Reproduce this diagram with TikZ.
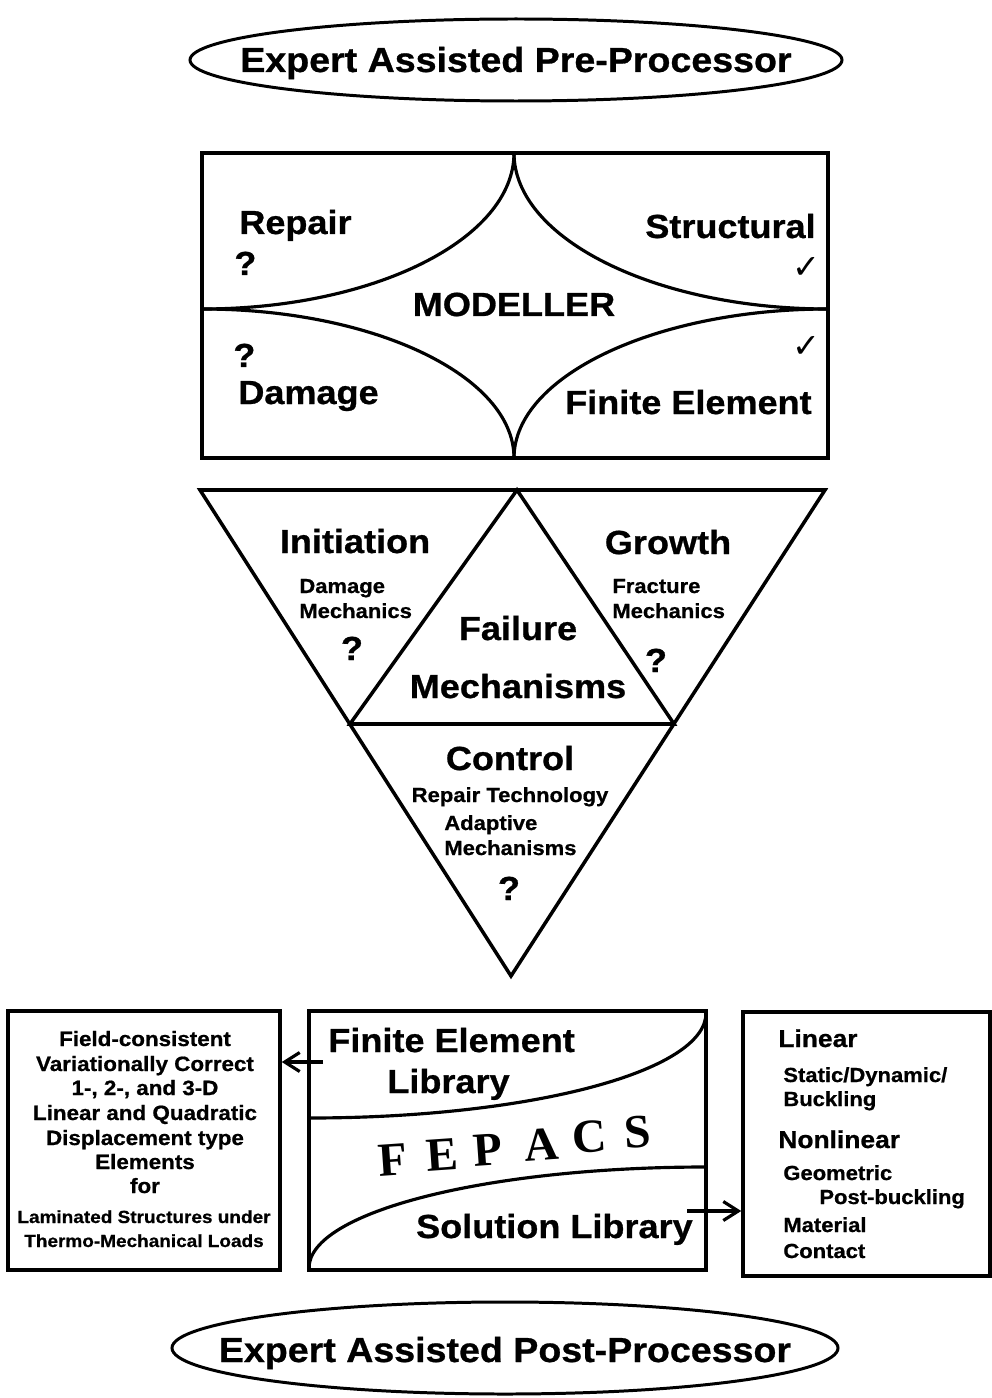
\documentclass[tikz,border=0pt]{standalone}
\usepackage{fontspec}
\setmainfont{Liberation Sans}[FakeStretch=1.08, BoldFeatures={FakeBold=0.8}]
\newfontfamily\checkfont{DejaVu Sans}
\newfontfamily\fepacsfont{Liberation Serif}
\usetikzlibrary{arrows.meta,shapes.geometric}

\tikzset{
  boxline/.style={line width=2pt},
  arcline/.style={line width=1.8pt},
  oval/.style={ellipse, draw, line width=1.7pt, inner sep=0pt},
  titletxt/.style={font=\bfseries\fontsize{19.8}{22}\selectfont, inner sep=0pt},
  headtxt/.style={font=\bfseries\fontsize{19}{22}\selectfont, inner sep=0pt},
  subtxt/.style={font=\bfseries\fontsize{11.6}{14}\selectfont, inner sep=0pt},
  listtxt/.style={font=\bfseries\fontsize{11.8}{14}\selectfont, inner sep=0pt},
  finetxt/.style={font=\bfseries\fontsize{10}{12}\selectfont, inner sep=0pt},
  kindtxt/.style={font=\bfseries\fontsize{13.9}{16}\selectfont, inner sep=0pt},
  checktxt/.style={font=\checkfont\bfseries\fontsize{19}{19}\selectfont, inner sep=0pt},
  fepacstxt/.style={font=\fepacsfont\bfseries\fontsize{27}{27}\selectfont, inner sep=0pt},
  link/.style={line width=1.8pt, -{Straight Barb[length=3mm,width=3.8mm]}},
}

\begin{document}
\begin{tikzpicture}[x=0.2mm,y=-0.2mm]
  \useasboundingbox (0,0) rectangle (992,1398);

  % pre-processor
  \node[oval, minimum width=130.4mm, minimum height=16.4mm] (pre) at (516,60) {};
  \node[titletxt, anchor=base] (pre-label) at (516,72) {Expert Assisted Pre-Processor};

  % modeller box with the four corner arcs
  \draw[boxline] (202,153) rectangle (828,458);
  \draw[arcline] (514,153) .. controls (514,239) and (374,309) .. (202,309);
  \draw[arcline] (514,153) .. controls (514,239) and (656,309) .. (828,309);
  \draw[arcline] (202,309) .. controls (374,309) and (514,376) .. (514,458);
  \draw[arcline] (828,309) .. controls (656,309) and (514,376) .. (514,458);
  \node[headtxt, anchor=base west] (repair) at (239,234) {Repair};
  \node[headtxt, anchor=base west] (repair-q) at (234,275) {?};
  \node[headtxt, anchor=base east] (structural) at (816,238) {Structural};
  \node[checktxt] (structural-ok) at (806,268) {✓};
  \node[headtxt, anchor=base] (modeller) at (514,316) {MODELLER};
  \node[headtxt, anchor=base west] (damage-q) at (233,367) {?};
  \node[headtxt, anchor=base west] (damage) at (238,404) {Damage};
  \node[checktxt] (finite-ok) at (806,347) {✓};
  \node[headtxt, anchor=base east] (finite) at (812,414) {Finite Element};

  % failure mechanisms triangle
  \draw[boxline, line join=miter] (200,490) -- (825,490) -- (511,976) -- cycle;
  \draw[boxline, line join=miter] (350,724) -- (517,490) -- (674,724) -- cycle;
  \node[headtxt, anchor=base] (initiation) at (355,553) {Initiation};
  \node[subtxt, anchor=base west] (init-a) at (299,593) {Damage};
  \node[subtxt, anchor=base west] (init-b) at (299,618) {Mechanics};
  \node[headtxt, anchor=base] (init-q) at (352,660) {?};
  \node[headtxt, anchor=base] (growth) at (668,554) {Growth};
  \node[subtxt, anchor=base west] (growth-a) at (612,593) {Fracture};
  \node[subtxt, anchor=base west] (growth-b) at (612,618) {Mechanics};
  \node[headtxt, anchor=base] (growth-q) at (656,672) {?};
  \node[headtxt, anchor=base] (failure) at (518,640) {Failure};
  \node[headtxt, anchor=base] (mechanisms) at (518,698) {Mechanisms};
  \node[headtxt, anchor=base] (control) at (510,770) {Control};
  \node[subtxt, anchor=base] (control-a) at (510,802) {Repair Technology};
  \node[subtxt, anchor=base west] (control-b) at (444,830) {Adaptive};
  \node[subtxt, anchor=base west] (control-c) at (444,855) {Mechanisms};
  \node[headtxt, anchor=base] (control-q) at (509,900) {?};

  % element library notes
  \node[boxline, draw, minimum width=54.4mm, minimum height=51.8mm, inner sep=0pt] (elements) at (144,1140.5) {};
  \foreach \lbl/\y [count=\i] in {Field-consistent/1046, Variationally Correct/1071,
      {1-, 2-, and 3-D}/1095, Linear and Quadratic/1120, Displacement type/1145,
      Elements/1169, for/1193}
    \node[listtxt, anchor=base] (elem-\i) at (145,\y) {\lbl};
  \node[finetxt, anchor=base] (elem-8) at (144,1223) {Laminated Structures under};
  \node[finetxt, anchor=base] (elem-9) at (144,1247) {Thermo-Mechanical Loads};

  % FEPACS
  \node[boxline, draw, minimum width=79.4mm, minimum height=51.8mm, inner sep=0pt] (fepacs) at (507.5,1140.5) {};
  \draw[arcline] (309,1118) .. controls (528,1118) and (706,1072) .. (706,1013);
  \draw[arcline] (309,1268) .. controls (309,1212) and (487,1167) .. (706,1167);
  \node[headtxt, anchor=base west] (felib-a) at (328,1052) {Finite Element};
  \node[headtxt, anchor=base west] (felib-b) at (387,1093) {Library};
  \node[headtxt, anchor=base east] (sollib) at (693,1238) {Solution Library};
  \foreach \ch/\x/\y in {F/393/1160, E/442/1155, P/488/1150, A/541/1145, C/590/1137, S/638/1132}
    \node[fepacstxt, rotate=4] (fepacs-\ch) at (\x,\y) {\ch};

  % analysis types
  \node[boxline, draw, minimum width=49.4mm, minimum height=52.8mm, inner sep=0pt] (solvers) at (866.5,1144) {};
  \node[kindtxt, anchor=base west] (linear) at (778,1047) {Linear};
  \node[subtxt, anchor=base west] (linear-a) at (783,1082) {Static/Dynamic/};
  \node[subtxt, anchor=base west] (linear-b) at (783,1106) {Buckling};
  \node[kindtxt, anchor=base west] (nonlinear) at (778,1148) {Nonlinear};
  \node[subtxt, anchor=base west] (nonlinear-a) at (783,1180) {Geometric};
  \node[subtxt, anchor=base west] (nonlinear-b) at (819,1204) {Post-buckling};
  \node[subtxt, anchor=base west] (nonlinear-c) at (783,1232) {Material};
  \node[subtxt, anchor=base west] (nonlinear-d) at (783,1258) {Contact};

  % arrows out of the libraries
  \coordinate (felib-tail) at (323,1062);
  \coordinate (sollib-tail) at (687,1211);
  \draw[link] (felib-tail) -- (felib-tail -| elements.east);
  \draw[link] (sollib-tail) -- (sollib-tail -| solvers.west);

  % post-processor
  \node[oval, minimum width=133.2mm, minimum height=18.4mm] (post) at (505,1348) {};
  \node[titletxt, anchor=base] (post-label) at (505,1362) {Expert Assisted Post-Processor};
\end{tikzpicture}
\end{document}
